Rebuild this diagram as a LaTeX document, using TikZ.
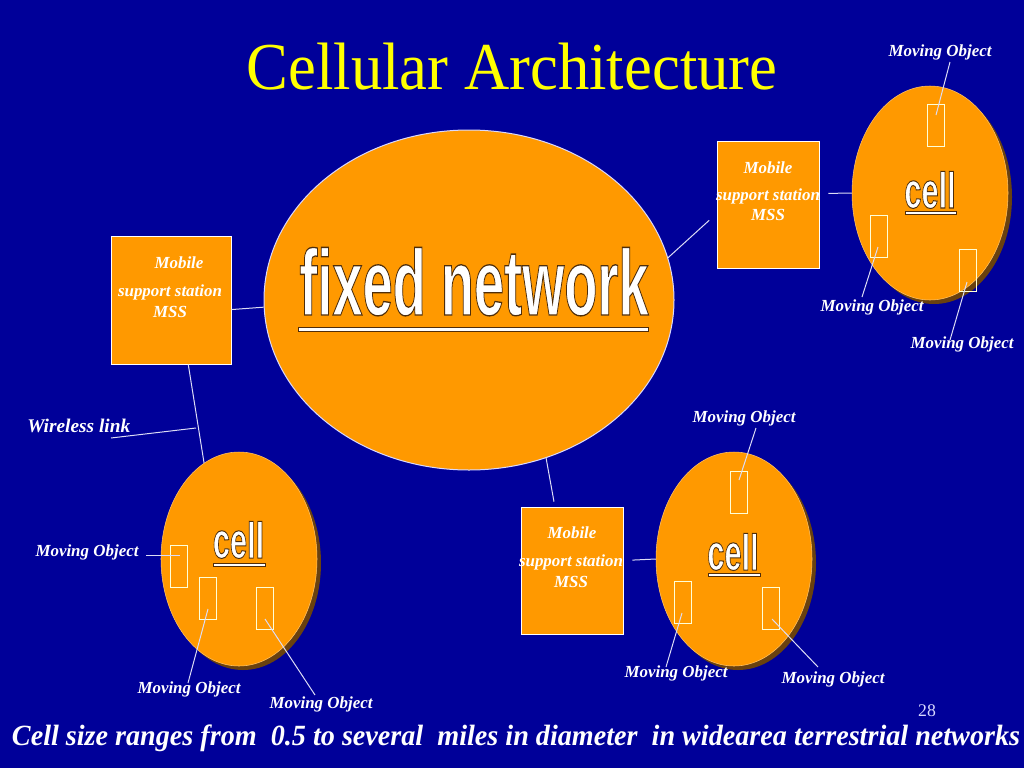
\documentclass[tikz,border=0pt]{standalone}
\usepackage{fontspec}
\setmainfont{Liberation Serif}
\newfontfamily\sansfam{Liberation Sans}
\newfontfamily\outfamA{Liberation Sans Bold}[FakeBold=1.4]
\newfontfamily\outfamB{Liberation Sans Bold}[FakeBold=2]
\usetikzlibrary{shapes.geometric}
\definecolor{bg}{RGB}{0,0,153}
\definecolor{org}{RGB}{255,153,0}
\definecolor{shd}{RGB}{105,65,15}
\definecolor{ttl}{RGB}{255,255,0}
\definecolor{lnk}{RGB}{220,220,245}
\definecolor{mob}{RGB}{255,255,215}
\definecolor{outl}{RGB}{80,45,10}
\newcommand{\brownstroke}{\special{pdf:literal direct 0.31 0.18 0.04 RG}}
\newcommand{\celltext}{\resizebox{38.5pt}{\height}{\fontsize{38}{38}\outfamB\color{white}\brownstroke cell}}
\newcommand{\bottomline}{Cell size ranges from~ 0.5 to several~ miles in diameter~ in widearea terrestrial networks}
\tikzset{
  conn/.style={draw=lnk, line width=0.75pt},
  molabel/.style={font=\fontsize{12.7}{14}\selectfont\bfseries\itshape, text=white, anchor=base, inner sep=0pt},
  msslabel/.style={font=\fontsize{12.7}{14}\selectfont\bfseries\itshape, text=white, anchor=base, inner sep=0pt},
  obj/.style={draw=mob, line width=0.75pt, minimum width=12.75pt, minimum height=31.5pt, inner sep=0pt},
  cellshape/.style={ellipse, fill=org, draw=org!60!white, line width=0.4pt, minimum width=117pt, minimum height=160.5pt, inner sep=0pt},
  cellshadow/.style={ellipse, fill=shd, minimum width=117pt, minimum height=160.5pt, inner sep=0pt},
  stationbox/.style={draw=white, fill=org, line width=0.6pt, inner sep=0pt},
  uline/.style={fill=white, draw=outl, line width=0.6pt},
  celltxt/.style={anchor=base, inner sep=0pt}
}
\begin{document}
\begin{tikzpicture}[x=0.75pt, y=-0.75pt]
\fill[bg] (0,0) rectangle (1024,768);
\useasboundingbox (0,0) rectangle (1024,768);

% title
\node[font=\fontsize{47}{50}\selectfont, text=ttl, anchor=base, inner sep=0pt] (title) at (512,89) {\scalebox{1}[1.07]{Cellular Architecture}};

% big ellipse
\node[ellipse, fill=org, draw=white!85!blue, line width=0.75pt, minimum width=307.5pt, minimum height=255pt, inner sep=0pt] (big) at (469,300) {};
\node[anchor=base, inner sep=0pt] (fixed) at (474,315) {\resizebox{262pt}{\height}{\fontsize{70}{70}\outfamA\color{white}\brownstroke fixed network}};
\filldraw[uline] (298,327) rectangle (648,331);

% stations
\node[stationbox, minimum width=90pt, minimum height=96pt] (boxL) at (171,300) {};
\node[stationbox, minimum width=76.5pt, minimum height=95.25pt] (boxR) at (768,204.5) {};
\node[stationbox, minimum width=76.5pt, minimum height=95.25pt] (boxB) at (572,570.5) {};

\node[msslabel] (boxLa) at (179,268) {Mobile};
\node[msslabel] (boxLb) at (170,296) {support station};
\node[msslabel] (boxLc) at (170,317) {MSS};
\node[msslabel] (boxRa) at (768,173) {Mobile};
\node[msslabel] (boxRb) at (768,200) {support station};
\node[msslabel] (boxRc) at (768,220) {MSS};
\node[msslabel] (boxBa) at (572,538) {Mobile};
\node[msslabel] (boxBb) at (571,566) {support station};
\node[msslabel] (boxBc) at (571,587) {MSS};

% cells
\node[cellshadow] (cellLs) at (243,563) {};
\node[cellshape] (cellL) at (239,559) {};
\node[cellshadow] (cellRs) at (934,197) {};
\node[cellshape] (cellR) at (930,193) {};
\node[cellshadow] (cellBs) at (738,563) {};
\node[cellshape] (cellB) at (734,559) {};

\node[celltxt] (cellLt) at (238.5,558) {\celltext};
\filldraw[uline] (213,563.5) rectangle (265,566.5);
\node[celltxt] (cellRt) at (930,208) {\celltext};
\filldraw[uline] (905,211.5) rectangle (956,214.5);
\node[celltxt] (cellBt) at (733,570) {\celltext};
\filldraw[uline] (708,573.5) rectangle (760,576.5);

% links
\draw[conn] (boxL.-9.5) -- (big.182.8);
\draw[conn] (boxL.-75.1) -- (cellL.110.5);
\draw[conn, shorten >=7.5pt] (big.12.8) -- (boxR.190.7);
\draw[conn, shorten <=6.75pt] (boxR.12.7) -- (cellR.west);
\draw[conn, shorten >=3.75pt] (big.-64.3) -- (boxB.105.8);
\draw[conn, shorten <=6.75pt] (boxB.11.6) -- (cellB.west);

% wireless link
\node[font=\fontsize{14.5}{16}\selectfont\bfseries\itshape, text=white, anchor=base west, inner sep=0pt] (wl) at (27,432) {Wireless link};
\coordinate (wlA) at (111,438);
\coordinate (wlB) at (196,428);
\draw[conn] (wlA) -- (wlB);

% moving objects: top right cell
\node[obj] (r1) at (935.5,125.5) {};
\node[obj] (r2) at (878.5,236.5) {};
\node[obj] (r3) at (968,270) {};
\node[molabel] (m1) at (940,56) {Moving Object};
\node[molabel] (m2) at (872,311) {Moving Object};
\node[molabel] (m3) at (962,348) {Moving Object};
\coordinate (m1a) at (950,62);  \coordinate (m1b) at (936,115);
\coordinate (m2a) at (862,297); \coordinate (m2b) at (878,247);
\coordinate (m3a) at (950,340); \coordinate (m3b) at (967,282);
\draw[conn] (m1a) -- (m1b);
\draw[conn] (m2a) -- (m2b);
\draw[conn] (m3a) -- (m3b);

% left cell
\node[obj] (r4) at (179,566) {};
\node[obj] (r5) at (208,598) {};
\node[obj] (r6) at (264.5,608.5) {};
\node[molabel] (m4) at (87,556) {Moving Object};
\node[molabel] (m5) at (189,693) {Moving Object};
\node[molabel] (m6) at (321,708) {Moving Object};
\coordinate (m4a) at (146,555); \coordinate (m4b) at (180,555);
\coordinate (m5a) at (188,683); \coordinate (m5b) at (208,609);
\coordinate (m6a) at (315,695); \coordinate (m6b) at (265,619);
\draw[conn] (m4a) -- (m4b);
\draw[conn] (m5a) -- (m5b);
\draw[conn] (m6a) -- (m6b);

% bottom cell
\node[obj] (r7) at (739,492) {};
\node[obj] (r8) at (682.5,602) {};
\node[obj] (r9) at (771,608.5) {};
\node[molabel] (m7) at (744,422) {Moving Object};
\node[molabel] (m8) at (676,677) {Moving Object};
\node[molabel] (m9) at (833,683) {Moving Object};
\coordinate (m7a) at (756,428); \coordinate (m7b) at (739,480);
\coordinate (m8a) at (666,667); \coordinate (m8b) at (682,613);
\coordinate (m9a) at (818,667); \coordinate (m9b) at (772,619);
\draw[conn] (m7a) -- (m7b);
\draw[conn] (m8a) -- (m8b);
\draw[conn] (m9a) -- (m9b);

% page number
\node[font=\fontsize{13.3}{14}\selectfont, text=white!85!blue, anchor=base, inner sep=0pt] (pnum) at (927,716) {28};

% bottom line
\node[anchor=base, inner sep=0pt, text=white] (btext) at (516,745) {\resizebox{756pt}{\height}{\fontsize{22}{24}\selectfont\bfseries\itshape\bottomline}};
\end{tikzpicture}
\end{document}
